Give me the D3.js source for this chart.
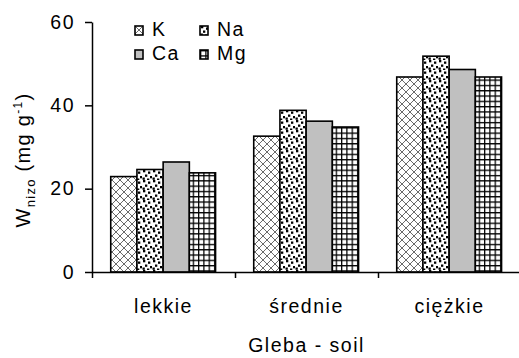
<!DOCTYPE html>
<html>
<head>
<meta charset="utf-8">
<script src="https://cdnjs.cloudflare.com/ajax/libs/d3/7.8.5/d3.min.js"></script>
<style>
    body { margin: 0; background: #fff; }
    text { font-family: 'Liberation Sans', Arial, sans-serif; fill: #000; }
    .lbl { font-size: 19.5px; letter-spacing: 1.5px; }
</style>
</head>
<body>
<div id="chart"></div>
<script>
    // values
    const categories = ["lekkie", "średnie", "ciężkie"];
    const seriesNames = ["K", "Na", "Ca", "Mg"];
    const valuesK = [22.9, 32.6, 46.8];
    const valuesNa = [24.6, 38.8, 51.8];
    const valuesCa = [26.4, 36.2, 48.6];
    const valuesMg = [23.8, 34.8, 46.8];
    const yTicks = [0, 20, 40, 60];

    const seriesValues = { K: valuesK, Na: valuesNa, Ca: valuesCa, Mg: valuesMg };

    const W = 519, H = 358;
    const mLeft = 92, mRight = 521, mTop = 22, mBottom = 272;

    const svg = d3.select('#chart').append('svg')
        .attr('width', W).attr('height', H);

    // fill patterns
    const defs = svg.append('defs');

    const pK = defs.append('pattern').attr('id', 'pK')
        .attr('patternUnits', 'userSpaceOnUse').attr('width', 8).attr('height', 8);
    pK.append('rect').attr('width', 8).attr('height', 8).attr('fill', '#fff');
    pK.append('path').attr('d', 'M0,0L8,8M8,0L0,8M-1,7L1,9M7,-1L9,1M-1,1L1,-1M7,9L9,7')
        .attr('stroke', '#6a6a6a').attr('stroke-width', 1);

    const pNa = defs.append('pattern').attr('id', 'pNa')
        .attr('patternUnits', 'userSpaceOnUse').attr('width', 10).attr('height', 10);
    pNa.append('rect').attr('width', 10).attr('height', 10).attr('fill', '#fff');
    [[1, 0], [6, 1.5], [3, 4.5], [8, 6], [0.5, 7.5], [5, 8.5]].forEach(p => {
        pNa.append('rect').attr('x', p[0]).attr('y', p[1])
            .attr('width', 2.3).attr('height', 2.3).attr('fill', '#000');
    });

    const pMg = defs.append('pattern').attr('id', 'pMg')
        .attr('patternUnits', 'userSpaceOnUse').attr('width', 5.3).attr('height', 5.3);
    pMg.append('rect').attr('width', 5.3).attr('height', 5.3).attr('fill', '#fff');
    pMg.append('path').attr('d', 'M0.6,0V5.3M0,0.6H5.3')
        .attr('stroke', '#000').attr('stroke-width', 1.3);

    const fills = { K: 'url(#pK)', Na: 'url(#pNa)', Ca: '#c0c0c0', Mg: 'url(#pMg)' };

    // scales
    const x = d3.scaleBand().domain(categories).range([mLeft, mRight]);
    const bw = x.bandwidth();
    const xs = d3.scaleBand().domain(seriesNames).range([bw * 0.131, bw * 0.864]);
    const y = d3.scaleLinear().domain([0, 60]).range([mBottom, mTop]);

    // bars
    const groups = svg.selectAll('g.cat').data(categories).join('g')
        .attr('class', 'cat')
        .attr('transform', d => `translate(${x(d)},0)`);

    groups.selectAll('rect').data((c, ci) => seriesNames.map(s => ({ s, v: seriesValues[s][ci] })))
        .join('rect')
        .attr('x', d => xs(d.s))
        .attr('y', d => y(d.v))
        .attr('width', xs.bandwidth())
        .attr('height', d => y(0) - y(d.v))
        .attr('fill', d => fills[d.s])
        .attr('stroke', '#000')
        .attr('stroke-width', 1.6);

    // y axis
    const yAxis = svg.append('g')
        .attr('transform', `translate(${mLeft},0)`)
        .call(d3.axisLeft(y).tickValues(yTicks).tickSize(7).tickSizeOuter(0).tickPadding(10));
    yAxis.select('.domain').attr('stroke-width', 1.5);
    yAxis.selectAll('.tick line').attr('stroke-width', 1.5);
    yAxis.selectAll('.tick text')
        .attr('font-family', null)
        .attr('font-size', null)
        .attr('class', 'lbl');

    // x axis: ticks at category boundaries
    const xb = d3.scaleLinear().domain([0, categories.length]).range([mLeft, mRight]);
    const xAxis = svg.append('g')
        .attr('transform', `translate(0,${mBottom})`)
        .call(d3.axisBottom(xb).tickValues(d3.range(categories.length + 1)).tickSize(6).tickSizeOuter(0).tickFormat(''));
    xAxis.select('.domain').attr('stroke-width', 1.5);
    xAxis.selectAll('.tick line').attr('stroke-width', 1.5);

    svg.selectAll('text.cat').data(categories).join('text')
        .attr('class', 'cat lbl')
        .attr('x', d => x(d) + bw / 2)
        .attr('y', 313)
        .attr('text-anchor', 'middle')
        .text(d => d);

    // axis titles
    svg.append('text')
        .attr('class', 'lbl')
        .attr('x', (mLeft + mRight) / 2)
        .attr('y', 352)
        .attr('text-anchor', 'middle')
        .text('Gleba - soil');

    const yt = svg.append('text')
        .attr('transform', 'translate(30,160) rotate(-90)')
        .attr('text-anchor', 'middle')
        .style('font-size', '20px')
        .style('letter-spacing', '1.3px');
    yt.append('tspan').text('W');
    yt.append('tspan').attr('dy', 5).style('font-size', '13px').text('nizo');
    yt.append('tspan').attr('dy', -5).text(' (mg g');
    yt.append('tspan').attr('dy', -8).style('font-size', '12px').text('-1');
    yt.append('tspan').attr('dy', 8).text(')');

    // legend
    const legendPos = { K: [135, 26], Na: [200, 26], Ca: [135, 50], Mg: [200, 50] };
    const legend = svg.selectAll('g.legend').data(seriesNames).join('g')
        .attr('class', 'legend')
        .attr('transform', d => `translate(${legendPos[d][0]},${legendPos[d][1]})`);
    legend.append('rect')
        .attr('width', 8).attr('height', 9)
        .attr('fill', d => fills[d])
        .attr('stroke', '#000').attr('stroke-width', 1.6);
    legend.append('text')
        .attr('class', 'lbl')
        .attr('x', 17).attr('y', 9.5)
        .text(d => d);
</script>
</body>
</html>
